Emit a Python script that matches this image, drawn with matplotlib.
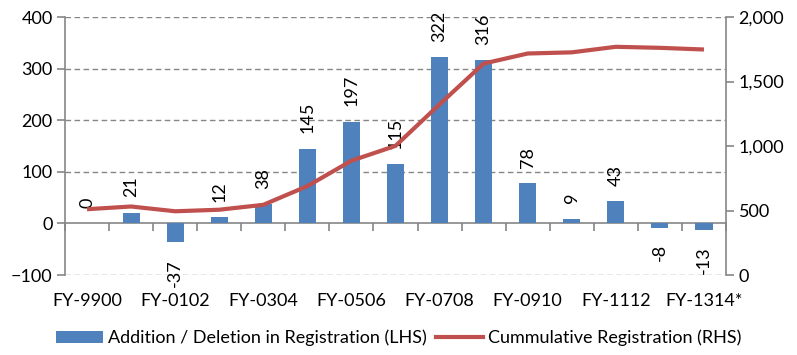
import numpy as np
import matplotlib
matplotlib.use("Agg")
import matplotlib.pyplot as plt
from matplotlib.patches import Patch
from matplotlib.lines import Line2D

plt.rcParams['font.family'] = ['Lato', 'DejaVu Sans']

years = ['FY-9900', 'FY-0001', 'FY-0102', 'FY-0203', 'FY-0304', 'FY-0405',
         'FY-0506', 'FY-0607', 'FY-0708', 'FY-0809', 'FY-0910', 'FY-1011',
         'FY-1112', 'FY-1213', 'FY-1314*']
additions = [0, 21, -37, 12, 38, 145, 197, 115, 322, 316, 78, 9, 43, -8, -13]
cumulative = [510, 531, 494, 506, 544, 689, 886, 1001, 1323, 1639, 1717,
              1726, 1769, 1761, 1748]

bar_color = '#4F81BD'
line_color = '#C0504D'
axis_gray = '#868686'
fs = 13

fig = plt.figure(figsize=(7.97, 3.55), dpi=100)
ax = fig.add_axes([65 / 797, 80 / 355, 661 / 797, 258 / 355])
x = np.arange(len(years))

ax.bar(x, additions, width=0.39, color=bar_color, zorder=3)
ax.set_xlim(-0.5, len(years) - 0.5)
ax.set_ylim(-100, 400)
ax.set_yticks([-100, 0, 100, 200, 300, 400])
ax.tick_params(axis='y', labelsize=fs, length=6, color=axis_gray, width=1.2, pad=3)
for y in [-100, 100, 200, 300, 400]:
    ax.axhline(y, color=axis_gray, lw=1, ls=(0, (4, 2.5)), zorder=1)

# x axis crosses at zero, tick marks between categories
ax.spines['bottom'].set_position(('data', 0))
ax.spines['bottom'].set_color(axis_gray)
ax.spines['bottom'].set_linewidth(1.2)
ax.spines['bottom'].set_zorder(2)
ax.set_xticks(np.arange(-0.5, len(years), 1))
ax.tick_params(axis='x', labelbottom=False, length=6, color=axis_gray, width=1.2)
ax.spines['left'].set_color(axis_gray)
ax.spines['left'].set_linewidth(1.2)
ax.spines['top'].set_visible(False)
ax.spines['right'].set_visible(False)

# category labels along the bottom edge
sec = ax.secondary_xaxis('bottom')
sec.set_xticks(x[::2])
sec.set_xticklabels(years[::2], fontsize=fs)
sec.tick_params(length=0, pad=13)
sec.spines['bottom'].set_visible(False)

for xi, v in zip(x, additions):
    if v >= 0:
        ax.annotate(str(v), (xi, v), xytext=(0, 11), textcoords='offset points',
                    rotation=90, ha='center', va='bottom', fontsize=fs, zorder=4)
    else:
        ax.annotate(str(v), (xi, v), xytext=(0, -12), textcoords='offset points',
                    rotation=90, ha='center', va='top', fontsize=fs, zorder=4)

ax2 = ax.twinx()
ax2.plot(x, cumulative, color=line_color, lw=3, solid_capstyle='butt', zorder=5)
ax2.set_ylim(0, 2000)
ax2.set_yticks(range(0, 2001, 500))
ax2.set_yticklabels([f'{v:,}' for v in range(0, 2001, 500)])
ax2.tick_params(axis='y', labelsize=fs, length=6, color=axis_gray, width=1.2, pad=3)
for s in ['top', 'left', 'bottom']:
    ax2.spines[s].set_visible(False)
ax2.spines['right'].set_color(axis_gray)
ax2.spines['right'].set_linewidth(1.2)

handles = [Patch(facecolor=bar_color, edgecolor='none'),
           Line2D([], [], color=line_color, lw=3)]
fig.legend(handles, ['Addition / Deletion in Registration (LHS)',
                     'Cummulative Registration (RHS)'],
           loc='center', bbox_to_anchor=(0.5, 17 / 355), ncol=2, frameon=False,
           fontsize=fs, handlelength=2.6, handletextpad=0.3, columnspacing=0.5,
           handleheight=0.6)

fig.savefig('out.png', dpi=100)
